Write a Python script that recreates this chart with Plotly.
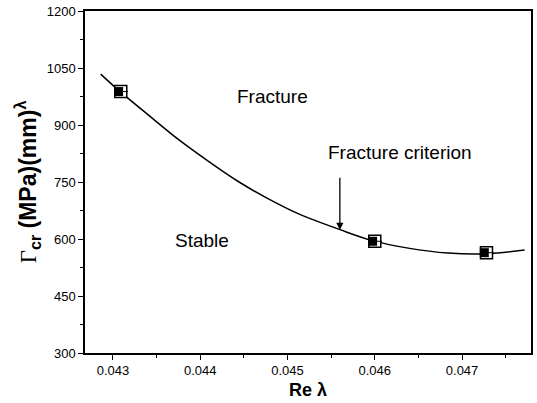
import plotly.graph_objects as go

# Data
pts_x = [0.04309, 0.04600, 0.04728]
pts_y = [988, 594, 564]

curve_x = [0.042860, 0.043076, 0.043418, 0.043761, 0.044103, 0.044445, 0.044787,
           0.045129, 0.045608, 0.045984, 0.046383, 0.046839, 0.047284, 0.047717]
curve_y = [1034, 989, 924, 860, 803, 750, 705, 666, 624, 595, 576, 563, 561, 571]

x_ticks = [0.043, 0.044, 0.045, 0.046, 0.047]
y_ticks = [300, 450, 600, 750, 900, 1050, 1200]

fig = go.Figure()
fig.add_trace(go.Scatter(x=curve_x, y=curve_y, mode="lines",
                         line=dict(color="black", width=1.5, shape="spline", smoothing=1.0),
                         showlegend=False, hoverinfo="skip"))
fig.add_trace(go.Scatter(x=pts_x, y=pts_y, mode="markers",
                         marker=dict(symbol="square", size=12, color="white",
                                     line=dict(color="black", width=1.5)),
                         showlegend=False))
dx = 0.000025
fig.add_trace(go.Scatter(x=[v - dx for v in pts_x], y=pts_y, mode="markers",
                         marker=dict(symbol="square", size=9, color="black",
                                     line=dict(width=0)),
                         showlegend=False))
fig.add_trace(go.Scatter(x=[v + 2 * dx for v in pts_x], y=pts_y, mode="markers",
                         marker=dict(symbol="line-ew", size=4,
                                     line=dict(color="black", width=1)),
                         showlegend=False))

font_main = "Liberation Sans, Arial, sans-serif"
fig.add_annotation(x=0.044824, y=974, text="Fracture", showarrow=False,
                   font=dict(family=font_main, size=19, color="black"))
fig.add_annotation(x=0.046288, y=828, text="Fracture criterion", showarrow=False,
                   font=dict(family=font_main, size=19, color="black"))
fig.add_annotation(x=0.044026, y=597, text="Stable", showarrow=False,
                   font=dict(family=font_main, size=19, color="black"))
fig.add_annotation(x=0.04560, y=624, ax=0.04560, ay=765, axref="x", ayref="y",
                   xref="x", yref="y", text="", showarrow=True,
                   arrowhead=2, arrowsize=1.1, arrowwidth=1.3, arrowcolor="black")

axis_common = dict(showline=True, linecolor="black", linewidth=1.5, mirror=True,
                   ticks="outside", ticklen=5, tickwidth=1.2, tickcolor="black",
                   showgrid=False, zeroline=False,
                   tickfont=dict(family=font_main, size=13, color="black"))

fig.update_xaxes(range=[0.04268, 0.04779], tickvals=x_ticks,
                 ticktext=[f"{v:.3f}" for v in x_ticks],
                 minor=dict(dtick=0.0005, tick0=0.0425, ticks="outside", ticklen=3,
                            tickcolor="black"),
                 title=dict(text="<b>Re λ</b>", standoff=6,
                            font=dict(family=font_main, size=18, color="black")),
                 **axis_common)
fig.update_yaxes(range=[300, 1200], tickvals=y_ticks,
                 minor=dict(dtick=75, tick0=300, ticks="outside", ticklen=3,
                            tickcolor="black"),
                 title=dict(text="<span style='font-family:Liberation Serif, Times New Roman, serif;font-weight:normal'>Γ</span><b><sub>cr</sub> (MPa)(mm)<sup>λ</sup></b>",
                            standoff=4,
                            font=dict(family=font_main, size=23, color="black")),
                 **axis_common)

fig.update_layout(width=537, height=403, margin=dict(l=85, r=4, t=11, b=50),
                  paper_bgcolor="white", plot_bgcolor="white")
fig.write_html("out.html")
